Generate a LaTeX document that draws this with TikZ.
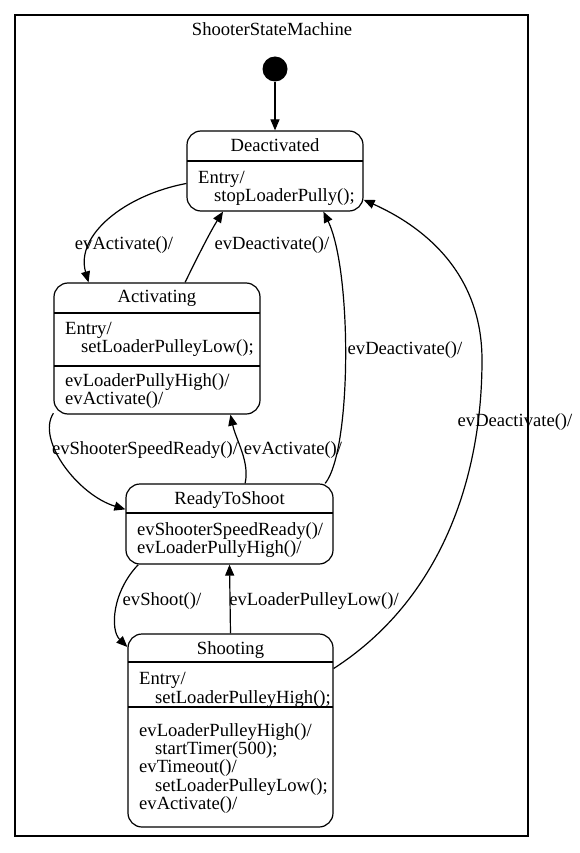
\documentclass[tikz,border=0pt]{standalone}
\usepackage{fontspec}
\setmainfont{Liberation Serif}
\usetikzlibrary{arrows.meta}
\begin{document}
\begin{tikzpicture}[x=1pt,y=-1pt,
  every node/.style={font=\fontsize{18.6}{18.6}\selectfont},
  statebox/.style={draw,line width=1.2pt,rounded corners=14pt,inner sep=0pt},
  divider/.style={line width=1.2pt},
  ttl/.style={anchor=base,inner sep=0pt},
  txt/.style={anchor=base west,inner sep=0pt},
  lbl/.style={anchor=base,inner sep=0pt},
  edge/.style={line width=1.2pt,-{Triangle[length=11pt,width=9pt]}}]
\useasboundingbox (0,0) rectangle (579,853);
% enclosing state machine
\draw[line width=1.2pt] (15,15) rectangle (528,836);
\node[ttl] (smtitle) at (272,36) {ShooterStateMachine};
% initial pseudostate
\node[circle,fill=black,minimum size=25pt,inner sep=0pt] (init) at (275,69) {};

% Deactivated
\node[statebox,minimum width=176pt,minimum height=80pt] (deact) at (275,171) {};
\draw[divider] (187,161) -- (363,161);
\node[ttl] (deactT) at (275,152) {Deactivated};
\node[txt] (deact1) at (198,183) {Entry/};
\node[txt] (deact2) at (214,201) {stopLoaderPully();};

% Activating
\node[statebox,minimum width=206pt,minimum height=131pt] (act) at (157,348.5) {};
\draw[divider] (54,313) -- (260,313);
\draw[divider] (54,366) -- (260,366);
\node[ttl] (actT) at (157,302) {Activating};
\node[txt] (act1) at (65,334) {Entry/};
\node[txt] (act2) at (81,352) {setLoaderPulleyLow();};
\node[txt] (act3) at (65,386) {evLoaderPullyHigh()/};
\node[txt] (act4) at (65,404) {evActivate()/};

% ReadyToShoot
\node[statebox,minimum width=207pt,minimum height=80pt] (rts) at (229.5,524) {};
\draw[divider] (126,513) -- (333,513);
\node[ttl] (rtsT) at (229.5,504) {ReadyToShoot};
\node[txt] (rts1) at (137,535) {evShooterSpeedReady()/};
\node[txt] (rts2) at (137,553) {evLoaderPullyHigh()/};

% Shooting
\node[statebox,minimum width=205pt,minimum height=193pt] (shoot) at (230.5,730.5) {};
\draw[divider] (128,662) -- (333,662);
\draw[divider] (128,707) -- (333,707);
\node[ttl] (shootT) at (230.5,654) {Shooting};
\node[txt] (shoot1) at (139,684) {Entry/};
\node[txt] (shoot2) at (155,703) {setLoaderPulleyHigh();};
\node[txt] (shoot3) at (139,736) {evLoaderPulleyHigh()/};
\node[txt] (shoot4) at (155,754) {startTimer(500);};
\node[txt] (shoot5) at (139,772) {evTimeout()/};
\node[txt] (shoot6) at (155,791) {setLoaderPulleyLow();};
\node[txt] (shoot7) at (139,809) {evActivate()/};

% transitions
\draw[edge] (init) -- (deact.north);

\draw[edge] (deact.188) .. controls (125,195) and (75,235) .. (act.136);
\node[lbl] (l1) at (124,249) {evActivate()/};

\draw[edge] (act.67) .. controls (195,262) and (210,232) .. (deact.218);
\node[lbl] (l2) at (272,249) {evDeactivate()/};

\draw[edge] (rts.23) .. controls (352,450) and (352,270) .. (deact.320);
\node[lbl] (l3) at (405,354) {evDeactivate()/};

\draw[edge] (shoot.31) .. controls (440,600) and (482,480) .. (482,360)
  .. controls (482,270) and (420,225) .. (deact.342);
\node[lbl] (l4) at (515,426) {evDeactivate()/};

\draw[edge] (act.212) .. controls (36,440) and (78,495) .. (rts.172);
\node[lbl] (l5) at (145,454) {evShooterSpeedReady()/};

\draw[edge] (rts.69) .. controls (250,462) and (236,440) .. (act.318);
\node[lbl] (l6) at (293,454) {evActivate()/};

\draw[edge] (rts.204) .. controls (112,592) and (110,630) .. (shoot.141);
\node[lbl] (l7) at (162,605) {evShoot()/};

\draw[edge] (shoot.north) -- (rts.south);
\node[lbl] (l8) at (314,605) {evLoaderPulleyLow()/};
\end{tikzpicture}
\end{document}
